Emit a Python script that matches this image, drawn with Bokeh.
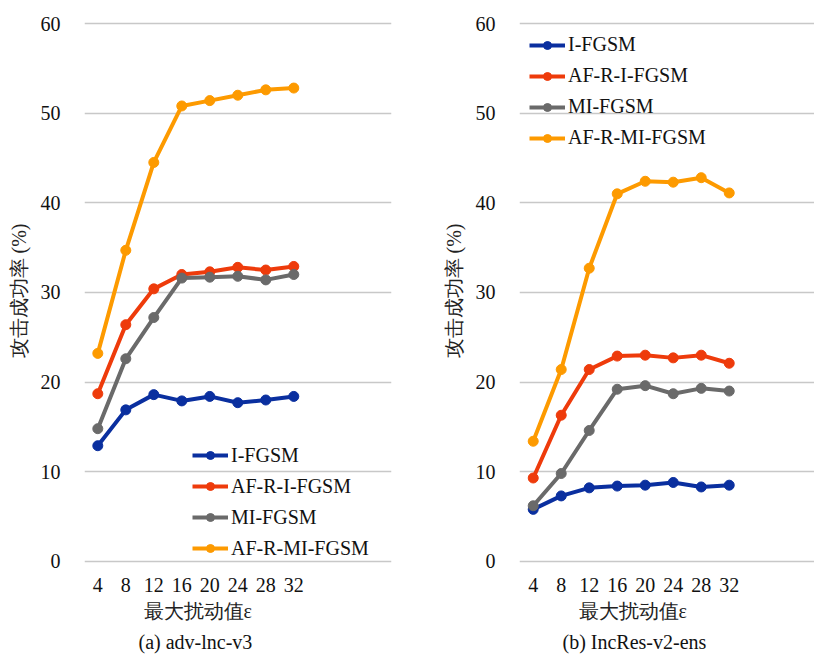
from bokeh.plotting import figure
from bokeh.layouts import row
from bokeh.models import Range1d, FixedTicker, Title, Legend
from bokeh.embed import file_html
from bokeh.resources import INLINE

eps = [4, 8, 12, 16, 20, 24, 28, 32]
series_names = ["I-FGSM", "AF-R-I-FGSM", "MI-FGSM", "AF-R-MI-FGSM"]
colors = ["#0a2f9f", "#ee3b0b", "#6a6a6a", "#fd9a00"]

# (a) adv-Inc-v3
a_ifgsm = [12.9, 16.9, 18.6, 17.9, 18.4, 17.7, 18.0, 18.4]
a_afr_ifgsm = [18.7, 26.4, 30.4, 32.0, 32.3, 32.8, 32.5, 32.9]
a_mifgsm = [14.8, 22.6, 27.2, 31.6, 31.7, 31.8, 31.4, 32.0]
a_afr_mifgsm = [23.2, 34.7, 44.5, 50.8, 51.4, 52.0, 52.6, 52.8]

# (b) IncRes-v2-ens
b_ifgsm = [5.8, 7.3, 8.2, 8.4, 8.5, 8.8, 8.3, 8.5]
b_afr_ifgsm = [9.3, 16.3, 21.4, 22.9, 23.0, 22.7, 23.0, 22.1]
b_mifgsm = [6.2, 9.8, 14.6, 19.2, 19.6, 18.7, 19.3, 19.0]
b_afr_mifgsm = [13.4, 21.4, 32.7, 41.0, 42.4, 42.3, 42.8, 41.1]

y_ticks = [0, 10, 20, 30, 40, 50, 60]
y_title = "攻击成功率 (%)"
x_title = "最大扰动值ε"
captions = ["(a) adv-lnc-v3", "(b) IncRes-v2-ens"]

SERIF = "Liberation Serif"


def make_panel(data, width, border_left, border_right, xr, legend_loc, xt_off, cap_off, caption):
    p = figure(width=width, height=656, output_backend="svg", toolbar_location=None,
               x_range=Range1d(*xr), y_range=Range1d(-0.35, 60.67),
               min_border_left=border_left, min_border_right=border_right,
               min_border_top=17, min_border_bottom=0)
    p.outline_line_color = None
    p.background_fill_color = "white"
    p.border_fill_color = "white"
    p.xgrid.grid_line_color = None
    p.ygrid.grid_line_color = "#c8c8c8"
    p.ygrid.grid_line_width = 1.6
    p.xaxis.ticker = FixedTicker(ticks=eps)
    p.yaxis.ticker = FixedTicker(ticks=y_ticks)
    for ax in (p.xaxis[0], p.yaxis[0]):
        ax.axis_line_color = None
        ax.major_tick_line_color = None
        ax.minor_tick_line_color = None
        ax.major_label_text_font = SERIF
        ax.major_label_text_font_size = "20px"
        ax.major_label_text_color = "#111111"
    p.xaxis.major_label_standoff = 7
    p.yaxis.major_label_standoff = 18
    p.yaxis.axis_label = y_title
    p.yaxis.axis_label_text_font = SERIF
    p.yaxis.axis_label_text_font_size = "20px"
    p.yaxis.axis_label_text_font_style = "normal"
    p.yaxis.axis_label_text_color = "#222222"
    p.yaxis.axis_label_standoff = 8

    items = []
    for name, ys, c in zip(series_names, data, colors):
        l = p.line(eps, ys, line_width=4, line_color=c)
        s = p.scatter(eps, ys, size=10, fill_color=c, line_color=c)
        items.append((name, [l, s]))
    leg = Legend(items=items, location=legend_loc, padding=0, spacing=8,
                 glyph_width=36, glyph_height=20, label_standoff=3,
                 label_text_font=SERIF, label_text_font_size="20px",
                 label_text_color="#111111",
                 background_fill_alpha=0, border_line_color=None)
    p.add_layout(leg, "center")

    t1 = Title(text=x_title, align="left", offset=xt_off, text_font=SERIF,
               text_font_size="20px", text_font_style="normal", text_color="#222222",
               standoff=7)
    p.add_layout(t1, "below")
    t2 = Title(text=caption, align="left", offset=cap_off, text_font=SERIF,
               text_font_size="20px", text_font_style="normal", text_color="#111111",
               standoff=7)
    p.add_layout(t2, "below")
    return p


pa = make_panel([a_ifgsm, a_afr_ifgsm, a_mifgsm, a_afr_mifgsm], 405, 84, 14,
                (2.1, 45.96), (108, 4.5), 59, 54, captions[0])
pb = make_panel([b_ifgsm, b_afr_ifgsm, b_mifgsm, b_afr_mifgsm], 409, 114, 0,
                (2.04, 44.18), (10, 415), 59, 43, captions[1])

layout = row(pa, pb)
open("out.html", "w").write(file_html(layout, INLINE))
